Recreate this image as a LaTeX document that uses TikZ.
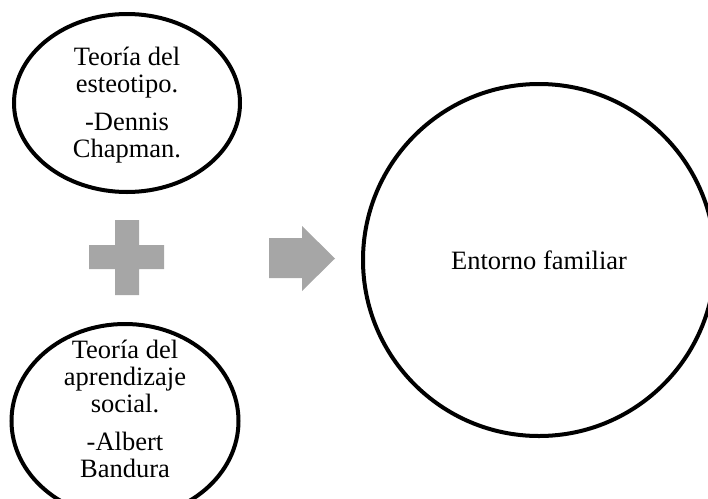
\documentclass[tikz,border=0pt]{standalone}
\usepackage{fontspec}
\setmainfont{Liberation Serif}
\usetikzlibrary{shapes.geometric}
\definecolor{blockgray}{HTML}{A6A6A6}
\tikzset{
  theory/.style={ellipse,draw,line width=4pt,inner sep=0pt},
  bigtext/.style={align=center,font=\fontsize{26.5pt}{27pt}\selectfont}
}

\begin{document}
\begin{tikzpicture}[x=1pt,y=-1pt]
\useasboundingbox (0,0) rectangle (708,498);
\clip (0,0) rectangle (708,498);

% Theories
\node[theory,minimum width=226pt,minimum height=178pt] (chapman) at (127,103) {};
\node[bigtext] (chapmantext) at ([yshift=-2pt]chapman.center) {Teoría del\\esteotipo.\\[11pt]-Dennis\\Chapman.};
\node[theory,minimum width=227pt,minimum height=194pt] (bandura) at (125,421) {};
\node[bigtext] (banduratext) at ([yshift=12.5pt]bandura.center) {Teoría del\\aprendizaje\\social.\\[11pt]-Albert\\Bandura};

% Plus and arrow
\fill[blockgray] (89,245) -| (115,220) -| (139,245) -| (164,269) -| (139,295) -| (115,269) -| (89,269) -- cycle;
\fill[blockgray] (269,238) -- (302,238) -- (302,226) -- (335,258.5) -- (302,291) -- (302,278) -- (269,278) -- cycle;

% Result
\node[circle,draw,line width=4pt,minimum size=352pt,bigtext] (entorno) at (539,260) {Entorno familiar};
\end{tikzpicture}
\end{document}
